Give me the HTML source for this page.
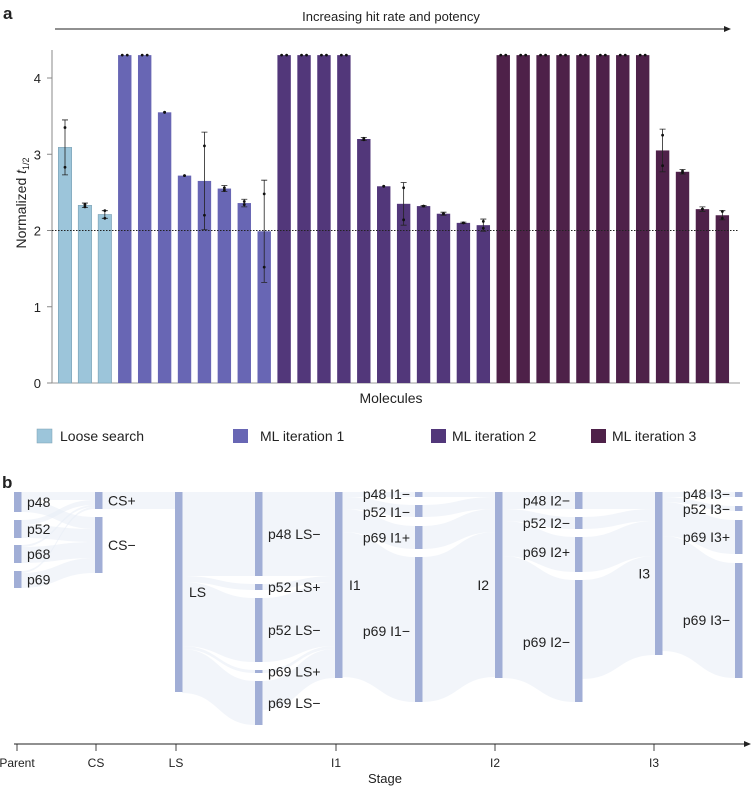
<!DOCTYPE html>
<html><head><meta charset="utf-8"><style>
body{margin:0;background:#fff;}
svg text{font-family:"Liberation Sans",sans-serif;fill:#222;}
</style></head><body>
<svg id="c" width="753" height="789" viewBox="0 0 753 789" xmlns="http://www.w3.org/2000/svg">
<text x="3" y="19" font-size="17" font-weight="bold">a</text>
<text x="391" y="21" font-size="13" text-anchor="middle">Increasing hit rate and potency</text>
<line x1="55" y1="29" x2="726" y2="29" stroke="#222" stroke-width="1"/>
<polygon points="731,29 724,26 724,32" fill="#222"/>
<g id="bars"></g>
<text x="391" y="403" font-size="14" text-anchor="middle">Molecules</text>
<text transform="translate(26,203) rotate(-90)" font-size="14" text-anchor="middle">Normalized <tspan font-style="italic">t</tspan><tspan font-size="9" dy="3">1/2</tspan></text>
<g>
<rect x="37" y="429" width="15" height="14" fill="#9cc5da" stroke="#7a9fb2" stroke-width="0.5"/>
<text x="60" y="441" font-size="14">Loose search</text>
<rect x="233" y="429" width="15" height="14" fill="#6866b4"/>
<text x="260" y="441" font-size="14">ML iteration 1</text>
<rect x="431" y="429" width="15" height="14" fill="#52377a"/>
<text x="452" y="441" font-size="14">ML iteration 2</text>
<rect x="591" y="429" width="15" height="14" fill="#4e2149"/>
<text x="612" y="441" font-size="14">ML iteration 3</text>
</g>
<text x="2" y="488" font-size="17" font-weight="bold">b</text>
<g id="sankey"></g>
<g>
<line x1="14" y1="744" x2="746" y2="744" stroke="#222" stroke-width="1"/>
<polygon points="751,744 744,741 744,747" fill="#222"/>
</g>
<text x="385" y="783" font-size="13" text-anchor="middle">Stage</text>
</svg>
<script>
const NS='http://www.w3.org/2000/svg';
const groups=['ls','ls','ls','m1','m1','m1','m1','m1','m1','m1','m1','m2','m2','m2','m2','m2','m2','m2','m2','m2','m2','m2','m3','m3','m3','m3','m3','m3','m3','m3','m3','m3','m3','m3'];
const values=[3.09,2.33,2.21,4.3,4.3,3.55,2.72,2.65,2.55,2.36,1.99,4.3,4.3,4.3,4.3,3.2,2.58,2.35,2.32,2.22,2.1,2.07,4.3,4.3,4.3,4.3,4.3,4.3,4.3,4.3,3.05,2.77,2.28,2.2];
const errs=[0.36,0.03,0.05,0,0,0,0,0.64,0.04,0.05,0.67,0,0,0,0,0.02,0,0.28,0.01,0.02,0.01,0.08,0,0,0,0,0,0,0,0,0.28,0.03,0.03,0.06];
const ptsA=[3.35,2.31,2.26,4.3,4.3,3.55,2.72,3.11,2.53,2.34,2.48,4.3,4.3,4.3,4.3,3.19,2.58,2.56,2.32,2.22,2.1,2.12,4.3,4.3,4.3,4.3,4.3,4.3,4.3,4.3,3.25,2.76,2.28,2.25];
const ptsB=[2.83,2.34,2.16,4.3,4.3,3.55,2.72,2.2,2.56,2.38,1.52,4.3,4.3,4.3,4.3,3.21,2.58,2.14,2.32,2.22,2.1,2.03,4.3,4.3,4.3,4.3,4.3,4.3,4.3,4.3,2.85,2.78,2.28,2.16];
const yTicks=[0,1,2,3,4];
const threshold=2;
const colors={ls:'#9cc5da',m1:'#6866b4',m2:'#52377a',m3:'#4e2149'};
const y=v=>383-v*76.25;
const x=i=>65+i*19.92;
const bw=13.4;
const g=document.getElementById('bars');
function mk(tag,attrs,parent){const e=document.createElementNS(NS,tag);for(const k in attrs)e.setAttribute(k,attrs[k]);(parent||g).appendChild(e);return e;}
let ax=mk('line',{x1:52,y1:50,x2:52,y2:383,stroke:'#888','stroke-width':1});


let xa=mk('line',{x1:47,y1:383,x2:740,y2:383,stroke:'#999','stroke-width':1});


yTicks.forEach(t=>{
  const tl=mk('line',{x1:47,y1:y(t),x2:52,y2:y(t),stroke:'#888'});
  
  
  const tx=mk('text',{x:41,y:y(t)+5,'font-size':13,'text-anchor':'end',fill:'#333'});
  tx.textContent=t;
  
  
});
values.forEach((v,i)=>{
  const cx=x(i);
  const r=mk('rect',{x:cx-bw/2,y:y(v),width:bw,height:y(0)-y(v),fill:colors[groups[i]],stroke:groups[i]==='ls'?'#7a9fb2':'none','stroke-width':0.6});
  
  
  if(errs[i]>0){
    const e=mk('path',{d:`M${cx},${y(v+errs[i])}V${y(v-errs[i])}M${cx-3},${y(v+errs[i])}H${cx+3}M${cx-3},${y(v-errs[i])}H${cx+3}`,stroke:'#222','stroke-width':0.8,fill:'none'});
    
    
  }
  const off=values[i]>=4.3?2.5:0;
  [[ptsA[i],-off],[ptsB[i],off]].forEach(p=>{
    const c=mk('circle',{cx:cx+p[1],cy:y(p[0]),r:1.4,fill:'#111'});
    
    
  });
});
const dl=mk('line',{x1:52,y1:y(threshold),x2:738,y2:y(threshold),stroke:'#222','stroke-width':1,'stroke-dasharray':'1.5,1.5'});



// Sankey
const sg=document.getElementById('sankey');
const colX={P:14,C:95,L:175,LO:255,I1:335,O1:415,I2:495,O2:575,I3:655,O3:735};
const nodeNames=['p48','p52','p68','p69','CS+','CS−','LS','p48 LS−','p52 LS+','p52 LS−','p69 LS+','p69 LS−','I1','p48 I1−','p52 I1−','p69 I1+','p69 I1−','I2','p48 I2−','p52 I2−','p69 I2+','p69 I2−','I3','p48 I3−','p52 I3−','p69 I3+','p69 I3−'];
const nodeCol=['P','P','P','P','C','C','L','LO','LO','LO','LO','LO','I1','O1','O1','O1','O1','I2','O2','O2','O2','O2','I3','O3','O3','O3','O3'];
const nodeTop=[492,520,545,571,492,517,492,492,584,598,670,681,492,492,505,526,557,492,492,517,537,580,492,492,506,520,563];
const nodeBot=[512,538,563,588,509,573,692,576,590,662,673,725,678,497,517,549,702,678,509,529,572,702,655,497,511,554,678];
const links=[[0,4,8],[0,5,12],[1,4,5],[1,5,13],[2,4,2],[2,5,16],[3,4,2],[3,5,15],[4,6,17],
[6,7,84],[6,8,6],[6,9,64],[6,10,3],[6,11,44],
[7,12,84],[8,12,6],[9,12,64],[10,12,3],[11,12,29],
[12,13,5],[12,14,12],[12,15,23],[12,16,145],
[13,17,5],[14,17,12],[15,17,23],[16,17,145],
[17,18,17],[17,19,12],[17,20,35],[17,21,122],
[18,22,17],[19,22,12],[20,22,35],[21,22,99],
[22,23,5],[22,24,5],[22,25,34],[22,26,115]];
const outOff=nodeTop.slice(), inOff=nodeTop.slice();
links.forEach(l=>{
  const [s,t,v]=l;
  const x0=colX[nodeCol[s]]+7, x1=colX[nodeCol[t]];
  const y0=outOff[s], y1=inOff[t];
  outOff[s]+=v; inOff[t]+=v;
  const m=(x0+x1)/2;
  const p=mk('path',{d:`M${x0},${y0}C${m},${y0} ${m},${y1} ${x1},${y1}L${x1},${y1+v}C${m},${y1+v} ${m},${y0+v} ${x0},${y0+v}Z`,fill:'#e8ecf6','fill-opacity':0.55},sg);
  
  
});
const labelPos=[[27,'s'],[27,'s'],[27,'s'],[27,'s'],[108,'s'],[108,'s'],[189,'s'],[268,'s'],[268,'s'],[268,'s'],[268,'s'],[268,'s'],[349,'s'],[410,'e'],[410,'e'],[410,'e'],[410,'e'],[489,'e'],[570,'e'],[570,'e'],[570,'e'],[570,'e'],[650,'e'],[730,'e'],[730,'e'],[730,'e'],[730,'e']];
nodeNames.forEach((n,i)=>{
  const r=mk('rect',{x:colX[nodeCol[i]],y:nodeTop[i],width:7.5,height:nodeBot[i]-nodeTop[i],fill:'#a1aed6'},sg);
  
  
  let ly=(nodeTop[i]+nodeBot[i])/2+5;
  if(i===13)ly=499; if(i===14)ly=517; if(i===23)ly=499; if(i===24)ly=514;
  if(i===20)ly=557; if(i===21)ly=647; if(i===16)ly=636; if(i===26)ly=625;
  const t=mk('text',{x:labelPos[i][0],y:ly,'font-size':14,'text-anchor':labelPos[i][1]==='e'?'end':'start'},sg);
  t.textContent=n;
  
  
});
const stages=['Parent','CS','LS','I1','I2','I3'];
const stageX=[17,96,176,336,495,654];
stages.forEach((s,i)=>{
  const tk=mk('line',{x1:stageX[i],y1:744,x2:stageX[i],y2:751,stroke:'#444'},sg);
  
  
  const t=mk('text',{x:stageX[i],y:767,'font-size':12,'text-anchor':'middle'},sg);
  t.textContent=s;
  
  
});
</script>
</body></html>
